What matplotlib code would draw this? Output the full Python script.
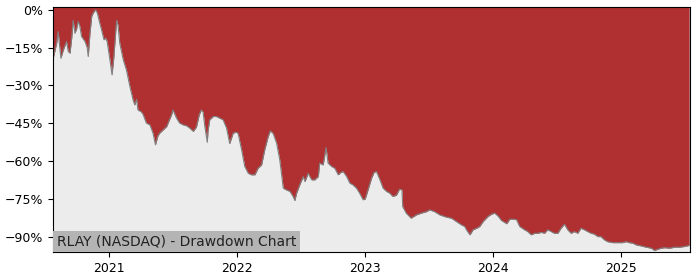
import matplotlib
matplotlib.use('Agg')
import matplotlib.pyplot as plt
import matplotlib.dates as mdates
from matplotlib.ticker import MultipleLocator, FuncFormatter
import numpy as np
import pandas as pd

ticker = 'RLAY (NASDAQ) - Drawdown Chart'

dates = [
    '2020-07-25', '2020-08-04', '2020-08-08', '2020-08-16', '2020-08-23', '2020-09-01',
    '2020-09-06', '2020-09-11', '2020-09-16', '2020-09-20', '2020-09-25', '2020-09-30',
    '2020-10-04', '2020-10-09', '2020-10-14', '2020-10-24', '2020-10-30', '2020-11-02',
    '2020-11-07', '2020-11-12', '2020-11-16', '2020-11-23', '2020-11-28', '2020-12-05',
    '2020-12-10', '2020-12-17', '2020-12-22', '2020-12-26', '2021-01-03', '2021-01-09',
    '2021-01-14', '2021-01-22', '2021-01-26', '2021-01-31', '2021-02-10', '2021-02-19',
    '2021-03-01', '2021-03-10', '2021-03-15', '2021-03-20', '2021-03-24', '2021-04-03',
    '2021-04-08', '2021-04-17', '2021-04-27', '2021-05-06', '2021-05-13', '2021-05-20',
    '2021-05-25', '2021-06-14', '2021-06-28', '2021-07-02', '2021-07-12', '2021-07-21',
    '2021-07-31', '2021-08-10', '2021-08-19', '2021-08-29', '2021-09-07', '2021-09-15',
    '2021-09-21', '2021-09-26', '2021-10-01', '2021-10-08', '2021-10-10', '2021-10-15',
    '2021-10-25', '2021-11-03', '2021-11-13', '2021-11-22', '2021-12-02', '2021-12-11',
    '2021-12-21', '2021-12-29', '2022-01-04', '2022-01-14', '2022-01-23', '2022-02-02',
    '2022-02-11', '2022-02-21', '2022-03-02', '2022-03-12', '2022-03-21', '2022-03-31',
    '2022-04-06', '2022-04-14', '2022-04-24', '2022-05-03', '2022-05-08', '2022-05-13',
    '2022-05-22', '2022-06-01', '2022-06-10', '2022-06-15', '2022-06-20', '2022-06-29',
    '2022-07-09', '2022-07-14', '2022-07-23', '2022-08-02', '2022-08-11', '2022-08-21',
    '2022-08-25', '2022-09-04', '2022-09-12', '2022-09-18', '2022-09-28', '2022-10-07',
    '2022-10-17', '2022-10-24', '2022-10-31', '2022-11-10', '2022-11-19', '2022-11-28',
    '2022-12-08', '2022-12-17', '2022-12-27', '2023-01-02', '2023-01-10', '2023-01-20',
    '2023-01-27', '2023-02-03', '2023-02-13', '2023-02-22', '2023-03-04', '2023-03-13',
    '2023-03-22', '2023-04-01', '2023-04-10', '2023-04-17', '2023-04-19', '2023-04-29',
    '2023-05-13', '2023-05-28', '2023-06-11', '2023-06-26', '2023-07-05', '2023-07-19',
    '2023-08-03', '2023-08-22', '2023-09-05', '2023-09-19', '2023-10-03', '2023-10-13',
    '2023-10-18', '2023-10-28', '2023-11-06', '2023-11-16', '2023-11-25', '2023-12-05',
    '2023-12-19', '2023-12-29', '2024-01-07', '2024-01-17', '2024-01-26', '2024-02-10',
    '2024-02-19', '2024-02-28', '2024-03-09', '2024-03-18', '2024-04-01', '2024-04-10',
    '2024-04-20', '2024-04-30', '2024-05-09', '2024-05-19', '2024-05-28', '2024-06-06',
    '2024-06-16', '2024-06-25', '2024-07-05', '2024-07-14', '2024-07-24', '2024-08-02',
    '2024-08-12', '2024-08-21', '2024-08-31', '2024-09-09', '2024-09-19', '2024-09-28',
    '2024-10-08', '2024-10-17', '2024-10-27', '2024-11-05', '2024-11-15', '2024-11-24',
    '2024-12-09', '2024-12-23', '2025-01-06', '2025-01-16', '2025-01-25', '2025-02-04',
    '2025-02-14', '2025-02-28', '2025-03-14', '2025-03-29', '2025-04-07', '2025-04-17',
    '2025-04-26', '2025-05-06', '2025-05-20', '2025-06-04', '2025-06-18', '2025-07-03',
    '2025-07-15',
]

drawdown_pct = [
    -19.2, -13.2, -8.6, -19.2, -15.9, -12.6,
    -16.5, -17.2, -11.0, -4.2, -9.3, -7.5,
    -4.6, -6.5, -10.6, -12.6, -15.0, -18.5,
    -9.3, -2.6, -1.3, 0.0, -1.3, -5.3,
    -7.9, -11.9, -11.2, -12.6, -19.8, -25.8,
    -19.0, -4.2, -6.0, -13.2, -19.8, -23.8,
    -30.4, -35.7, -37.7, -35.5, -39.7, -40.5,
    -41.6, -44.9, -45.6, -48.9, -53.5, -50.0,
    -48.9, -46.3, -41.6, -39.7, -42.9, -44.9,
    -45.6, -46.0, -46.9, -48.2, -46.5, -41.6,
    -39.7, -40.5, -46.3, -52.5, -48.0, -43.6,
    -42.3, -42.3, -43.0, -43.6, -46.9, -53.0,
    -48.9, -48.5, -49.0, -55.5, -62.1, -64.8,
    -65.4, -65.4, -62.8, -61.5, -55.5, -50.2,
    -48.0, -49.0, -52.9, -59.5, -65.0, -70.7,
    -71.4, -72.0, -74.0, -75.6, -72.7, -69.4,
    -66.1, -68.1, -64.8, -67.4, -67.4, -66.1,
    -60.8, -61.5, -54.6, -60.8, -62.1, -62.8,
    -65.4, -64.5, -64.1, -66.1, -68.7, -69.4,
    -70.7, -72.7, -75.3, -75.0, -71.4, -66.8,
    -64.5, -64.1, -67.4, -70.7, -72.0, -72.7,
    -74.0, -73.5, -71.1, -71.4, -78.0, -80.6,
    -82.6, -81.3, -80.6, -80.0, -79.3, -80.0,
    -81.3, -82.2, -82.6, -83.9, -85.2, -85.9,
    -87.2, -89.2, -87.2, -86.6, -85.9, -83.9,
    -81.9, -81.0, -80.6, -81.9, -83.5, -84.8,
    -83.0, -83.0, -83.2, -85.9, -87.2, -87.9,
    -89.2, -88.6, -88.6, -88.2, -88.6, -87.2,
    -87.9, -88.6, -88.6, -86.6, -85.0, -87.2,
    -88.6, -87.9, -88.6, -86.6, -87.2, -87.9,
    -88.6, -88.9, -89.9, -89.9, -91.2, -91.9,
    -92.3, -92.3, -92.3, -91.9, -92.3, -92.5,
    -93.2, -93.6, -94.1, -94.5, -95.4, -94.9,
    -94.5, -94.3, -94.5, -94.1, -94.1, -93.8,
    -93.4,
]

x = pd.to_datetime(dates)
dd = np.array(drawdown_pct) / 100.0
y_top = 0.011
y_bottom = -0.96

fig = plt.figure(figsize=(7, 2.8), dpi=100)
ax = fig.add_axes([0.076, 0.1, 0.91, 0.875])
ax.set_facecolor('#ececec')

ax.fill_between(x, dd, y_top, color='#b03031', lw=0)
ax.plot(x, dd, color='#808080', lw=0.8)

ax.set_xlim(x[0], x[-1] + pd.Timedelta(days=3))
ax.set_ylim(y_bottom, y_top)

ax.yaxis.set_major_locator(MultipleLocator(0.15))
ax.yaxis.set_major_formatter(FuncFormatter(lambda v, p: ('%.0f%%' % (v * 100)).replace('-', '\u2212')))
ax.xaxis.set_major_locator(mdates.YearLocator())
ax.xaxis.set_major_formatter(mdates.DateFormatter('%Y'))
ax.tick_params(labelsize=9)

ax.annotate(ticker, xy=(0, 0), xycoords='axes fraction', xytext=(2.5, 2.5),
            textcoords='offset points', ha='left', va='bottom', fontsize=10,
            color='#222222',
            bbox=dict(boxstyle='square,pad=0.25', facecolor='#b4b4b4', edgecolor='none'))

fig.savefig('out.png', dpi=100)
